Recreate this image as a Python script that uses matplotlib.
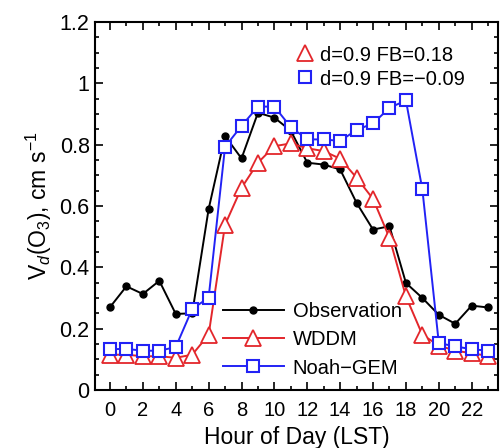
import matplotlib
matplotlib.use("Agg")
import matplotlib.pyplot as plt
from matplotlib.ticker import MultipleLocator
from matplotlib.lines import Line2D

plt.rcParams['font.family'] = ['Liberation Sans', 'DejaVu Sans']
plt.rcParams['mathtext.fontset'] = 'custom'
plt.rcParams['mathtext.rm'] = 'Liberation Sans'
plt.rcParams['mathtext.it'] = 'Liberation Sans:italic'

# hourly deposition velocity (cm/s)
hours = list(range(24))
observation = [0.27, 0.338, 0.313, 0.356, 0.248, 0.25, 0.59, 0.828, 0.755, 0.904,
               0.888, 0.845, 0.741, 0.735, 0.719, 0.61, 0.523, 0.534, 0.349, 0.30,
               0.245, 0.216, 0.275, 0.269]
wddm = [0.115, 0.115, 0.11, 0.11, 0.105, 0.115, 0.18, 0.539, 0.659, 0.741,
        0.795, 0.804, 0.788, 0.779, 0.754, 0.692, 0.623, 0.496, 0.305, 0.18,
        0.145, 0.128, 0.12, 0.111]
noah_gem = [0.133, 0.134, 0.128, 0.128, 0.14, 0.264, 0.301, 0.793, 0.861, 0.924,
            0.924, 0.857, 0.817, 0.817, 0.812, 0.848, 0.869, 0.92, 0.944, 0.654,
            0.153, 0.142, 0.133, 0.128]
xticks = list(range(0, 24, 2))
yticks = [0, 0.2, 0.4, 0.6, 0.8, 1.0, 1.2]
ytick_labels = ['0', '0.2', '0.4', '0.6', '0.8', '1', '1.2']
stats_labels = ['d=0.9 FB=0.18', 'd=0.9 FB=\u22120.09']

red = '#e3262b'
blue = '#2222f5'

fig = plt.figure(figsize=(5.01, 4.48), dpi=100)
ax = fig.add_axes([0.19, 0.1295, 0.804, 0.8215])

ax.plot(hours, observation, color='black', lw=1.4, marker='o', ms=5, zorder=2, label='Observation')
ax.plot(hours, wddm, color=red, lw=1.4, marker='^', ms=11, mfc='white', mec=red, mew=1.3,
        zorder=3, label='WDDM')
ax.plot(hours, noah_gem, color=blue, lw=1.4, marker='s', ms=8.5, mfc='white', mec=blue, mew=1.5,
        zorder=4, label='Noah\u2212GEM')

ax.set_xlim(-0.9, 23.6)
ax.set_ylim(0, 1.2)
ax.set_xticks(xticks)
ax.xaxis.set_minor_locator(MultipleLocator(1))
ax.set_yticks(yticks)
ax.set_yticklabels(ytick_labels)
ax.yaxis.set_minor_locator(MultipleLocator(0.05))
ax.tick_params(which='both', direction='in', top=True, right=True, width=1.2)
ax.tick_params(which='major', length=6)
ax.tick_params(which='minor', length=3)
ax.tick_params(axis='x', which='major', labelsize=14.5, pad=8)
ax.tick_params(axis='y', which='major', labelsize=15.5, pad=4)
for s in ax.spines.values():
    s.set_linewidth(1.5)

ax.set_xlabel('Hour of Day (LST)', fontsize=16.5, labelpad=4)
ax.set_ylabel('V$_d$(O$_3$), cm s$^{-1}$', fontsize=16.5, labelpad=4)

leg1 = ax.legend(loc='upper left', bbox_to_anchor=(0.318, 0.238), frameon=False, fontsize=14.5,
                 handlelength=3.0, handletextpad=0.45, labelspacing=0.45, borderpad=0,
                 borderaxespad=0)
ax.add_artist(leg1)

stat_handles = [Line2D([], [], ls='none', marker='^', ms=11, mfc='white', mec=red, mew=1.3),
                Line2D([], [], ls='none', marker='s', ms=8.5, mfc='white', mec=blue, mew=1.5)]
ax.legend(stat_handles, stats_labels, loc='upper left', bbox_to_anchor=(0.499, 0.936),
          frameon=False, fontsize=14.5, handlelength=0.9, handletextpad=0.3,
          labelspacing=0.25, borderpad=0, borderaxespad=0)

fig.savefig('out.png', dpi=100)
